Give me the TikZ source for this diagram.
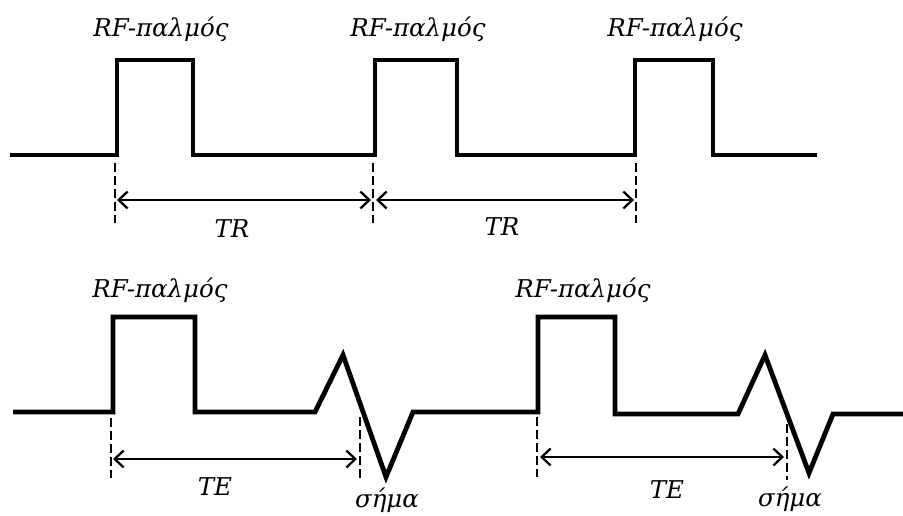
\documentclass[tikz,border=0pt]{standalone}
\usepackage{fontspec}
\setmainfont{DejaVu Serif}
\usetikzlibrary{arrows.meta}
\begin{document}
\begin{tikzpicture}[x=1pt,y=-1pt,
  wave/.style={line width=4.8pt, line join=miter},
  guide/.style={line width=2.4pt, dash pattern=on 9pt off 4pt},
  span/.style={line width=2.3pt, {Straight Barb[length=9pt,width=17pt,line width=2.3pt]}-{Straight Barb[length=9pt,width=17pt,line width=2.3pt]}},
  lbl/.style={font=\fontsize{24.5}{28}\selectfont\itshape, inner sep=0pt}]
\useasboundingbox (0,0) rectangle (903,515);
% top waveform
\draw[wave] (10,155) -- (117,155) -- (117,60) -- (193,60) -- (193,155)
  -- (375,155) -- (375,60) -- (457,60) -- (457,155)
  -- (635,155) -- (635,60) -- (713,60) -- (713,155) -- (817,155);
% top guides
\coordinate (t1a) at (115,163); \coordinate (t1b) at (115,223);
\coordinate (t2a) at (373,163); \coordinate (t2b) at (373,223);
\coordinate (t3a) at (636,163); \coordinate (t3b) at (636,223);
\draw[guide] (t1a) -- (t1b);
\draw[guide] (t2a) -- (t2b);
\draw[guide] (t3a) -- (t3b);
\coordinate (tr1s) at (117,200); \coordinate (tr1e) at (371,200);
\coordinate (tr2s) at (376,200); \coordinate (tr2e) at (634,200);
\draw[span] (tr1s) -- (tr1e);
\draw[span] (tr2s) -- (tr2e);
\node[lbl] (tr1) at (232,229) {TR};
\node[lbl] (tr2) at (502,227) {TR};
\node[lbl] (rf1) at (161,29) {RF-παλμός};
\node[lbl] (rf2) at (418,29) {RF-παλμός};
\node[lbl] (rf3) at (675,29) {RF-παλμός};
% bottom waveform
\draw[wave] (13,412) -- (113,412) -- (113,317) -- (195,317) -- (195,412)
  -- (315,412) -- (343,355) -- (386,477) -- (413,412)
  -- (538,412) -- (538,317) -- (615,317) -- (615,414)
  -- (738,414) -- (765,355) -- (809,473) -- (833,414) -- (903,414);
\coordinate (b1a) at (111,418); \coordinate (b1b) at (111,478);
\coordinate (b2a) at (360,417); \coordinate (b2b) at (360,478);
\coordinate (b3a) at (537,417); \coordinate (b3b) at (537,477);
\coordinate (b4a) at (787,424); \coordinate (b4b) at (787,480);
\draw[guide] (b1a) -- (b1b);
\draw[guide] (b2a) -- (b2b);
\draw[guide] (b3a) -- (b3b);
\draw[guide] (b4a) -- (b4b);
\coordinate (te1s) at (113,459); \coordinate (te1e) at (357,459);
\coordinate (te2s) at (540,457); \coordinate (te2e) at (784,457);
\draw[span] (te1s) -- (te1e);
\draw[span] (te2s) -- (te2e);
\node[lbl] (te1) at (215,487) {TE};
\node[lbl] (te2) at (667,490) {TE};
\node[lbl] (s1) at (387,500) {σήμα};
\node[lbl] (s2) at (790,499) {σήμα};
\node[lbl] (rf4) at (160,290) {RF-παλμός};
\node[lbl] (rf5) at (583,290) {RF-παλμός};
\end{tikzpicture}
\end{document}
